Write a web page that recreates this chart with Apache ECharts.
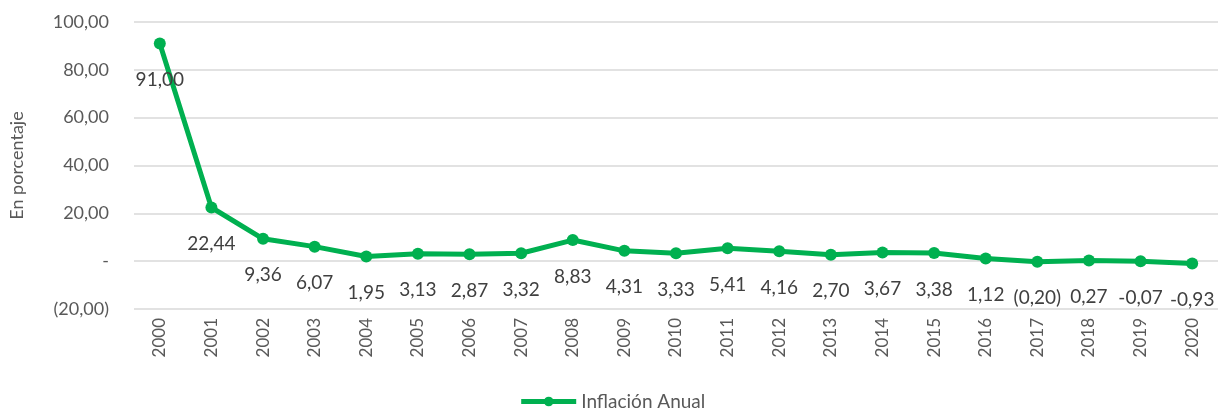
<!DOCTYPE html>
<html><head><meta charset="utf-8">
<script src="https://cdn.jsdelivr.net/npm/echarts@6/dist/echarts.min.js"></script>
<style>html,body{margin:0;padding:0;background:#fff}#c{width:1224px;height:412px}</style>
</head><body><div id="c"></div>
<script>
const years = ['2000','2001','2002','2003','2004','2005','2006','2007','2008','2009','2010','2011','2012','2013','2014','2015','2016','2017','2018','2019','2020'];
const inflation = [91.00,22.44,9.36,6.07,1.95,3.13,2.87,3.32,8.83,4.31,3.33,5.41,4.16,2.70,3.67,3.38,1.12,-0.20,0.27,-0.07,-0.93];
const pointLabels = ['91,00','22,44','9,36','6,07','1,95','3,13','2,87','3,32','8,83','4,31','3,33','5,41','4,16','2,70','3,67','3,38','1,12','(0,20)','0,27','-0,07','-0,93'];
const yTickLabels = {'100':'100,00','80':'80,00','60':'60,00','40':'40,00','20':'20,00','0':'-','-20':'(20,00)'};
const seriesName = 'Inflación Anual';
const FONT = 'Lato';
const chart = echarts.init(document.getElementById('c'));
chart.setOption({
  animation:false,
  textStyle:{fontFamily:FONT},
  grid:{left:128,right:6,top:22,bottom:103},
  legend:{top:392,left:'center',padding:0,itemWidth:55,itemHeight:12,itemGap:10,
    lineStyle:{width:5},
    textStyle:{fontFamily:FONT,fontSize:19,color:'#595959'},data:[seriesName]},
  xAxis:{type:'category',data:years,boundaryGap:true,
    axisLine:{show:false},axisTick:{show:false},
    axisLabel:{rotate:90,margin:9,fontSize:17,color:'#595959',fontFamily:FONT}},
  yAxis:{type:'value',min:-20,max:100,interval:20,
    name:'En porcentaje',nameLocation:'middle',nameGap:108,nameRotate:90,
    nameTextStyle:{fontSize:18,color:'#595959',fontFamily:FONT},
    axisLine:{show:false},axisTick:{show:false},
    splitLine:{lineStyle:{color:'#d9d9d9',width:1.5}},
    axisLabel:{margin:25,fontSize:18,color:'#595959',fontFamily:FONT,
      formatter:v=>yTickLabels[String(v)]}},
  series:[{name:seriesName,type:'line',data:inflation,
    symbol:'circle',symbolSize:12,
    lineStyle:{color:'#00B050',width:5},
    itemStyle:{color:'#00B050'},
    label:{show:true,position:'bottom',distance:21,fontSize:19,color:'#404040',fontFamily:FONT,
      formatter:p=>pointLabels[p.dataIndex]}}]
});
</script></body></html>
